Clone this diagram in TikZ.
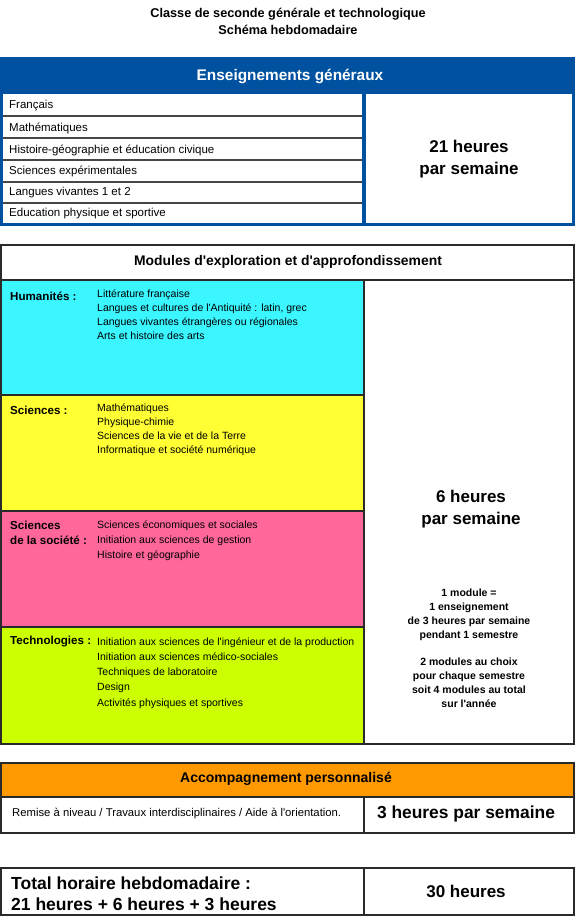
\documentclass[tikz,border=0pt]{standalone}
\usepackage{fontspec}
\setmainfont{Liberation Sans}[Ligatures=TeXOff]
\definecolor{bleu}{HTML}{0052A0}
\definecolor{humcol}{HTML}{3CF6FF}
\definecolor{scicol}{HTML}{FFFF33}
\definecolor{soccol}{HTML}{FF6699}
\definecolor{techcol}{HTML}{CCFF00}
\definecolor{accol}{HTML}{FF9900}
\definecolor{trait}{HTML}{2A2A2A}
\usetikzlibrary{calc, positioning}

\begin{document}
\begin{tikzpicture}[x=1pt, y=-1pt,
  titre/.style={font=\fontsize{12.7}{17}\selectfont\bfseries, align=center, inner sep=0},
  entete/.style={font=\fontsize{13.9}{15}\selectfont\bfseries, inner sep=0},
  matiere/.style={font=\fontsize{11.5}{12}\selectfont, anchor=west, inner sep=0},
  groupe/.style={font=\fontsize{11.6}{15}\selectfont\bfseries, anchor=west, align=left, inner sep=0},
  option/.style={font=\fontsize{10.5}{14}\selectfont, anchor=west, align=left, inner sep=0},
  horaire/.style={font=\fontsize{17}{22}\selectfont\bfseries, align=center, inner sep=0},
  note/.style={font=\fontsize{10.5}{14}\selectfont\bfseries, align=center, inner sep=0},
  cadre/.style={draw=trait, line width=2pt},
  filet/.style={draw=trait, line width=1.5pt}]
  \useasboundingbox (0,0) rectangle (575,918);

  \node[titre] (titre) at (288,21) {Classe de seconde générale et technologique\\Schéma hebdomadaire};

  \fill[bleu] (0,57) rectangle (575,226);
  \fill[white] (3,94) rectangle (362,223);
  \fill[white] (366,94) rectangle (572,223);
  \node[entete, text=white, font=\fontsize{15.4}{17}\selectfont\bfseries] (general) at (290,76) {Enseignements généraux};
  \foreach \y in {116,138,160,182,203}
    \draw[gray!55!black, line width=1.5pt] (3,\y) -- (362,\y);
  \foreach \y/\txt [count=\i] in {106/Français, 128/Mathématiques,
    150/Histoire-géographie et éducation civique, 171/Sciences expérimentales,
    193/Langues vivantes 1 et 2, 214/Education physique et sportive}
    \node[matiere] (mat\i) at (9,\y) {\txt};
  \node[horaire] (h21) at (469,159) {21 heures\\par semaine};

  \fill[white] (1,245) rectangle (574,744);
  \fill[humcol] (2,280) rectangle (364,395);
  \fill[scicol] (2,395) rectangle (364,511);
  \fill[soccol] (2,511) rectangle (364,627);
  \fill[techcol] (2,627) rectangle (364,744);
  \foreach \y in {395,511,627}
    \draw[filet] (2,\y) -- (364,\y);
  \draw[filet] (1,280) -- (574,280);
  \draw[filet] (364,280) -- (364,744);
  \draw[cadre] (1,245) rectangle (574,744);
  \node[entete] (modules) at (288,262) {Modules d'exploration et d'approfondissement};

  \node[groupe] (hum) at (10,296) {Humanités :};
  \node[option, anchor=north west] (humopt) at (97,290) {Littérature française\\Langues et cultures de l'Antiquité : latin, grec\\Langues vivantes étrangères ou régionales\\Arts et histoire des arts};
  \node[groupe] (sci) at (10,410) {Sciences :};
  \node[option, anchor=north west] (sciopt) at (97,404) {Mathématiques\\Physique-chimie\\Sciences de la vie et de la Terre\\Informatique et société numérique};
  \node[groupe, anchor=north west] (soc) at (10,521) {Sciences\\de la société :};
  \node[option, anchor=north west, font=\fontsize{10.5}{15}\selectfont] (socopt) at (97,521) {Sciences économiques et sociales\\Initiation aux sciences de gestion\\Histoire et géographie};
  \node[groupe] (tech) at (10,642) {Technologies :};
  \node[option, anchor=north west, font=\fontsize{10.5}{15}\selectfont] (techopt) at (97,638) {Initiation aux sciences de l'ingénieur et de la production\\Initiation aux sciences médico-sociales\\Techniques de laboratoire\\Design\\[1pt]Activités physiques et sportives};

  \node[horaire] (h6) at (471,509) {6 heures\\par semaine};
  \node[note] (regle) at (469,615) {1 module =\\1 enseignement\\de 3 heures par semaine\\pendant 1 semestre};
  \node[note] (choix) at (469,683) {2 modules au choix\\pour chaque semestre\\soit 4 modules au total\\sur l'année};

  \fill[accol] (1,763) rectangle (574,797);
  \draw[filet] (1,797) -- (574,797);
  \draw[filet] (364,797) -- (364,833);
  \draw[cadre] (1,763) rectangle (574,833);
  \node[entete, font=\fontsize{14}{15}\selectfont\bfseries] (accomp) at (286,779) {Accompagnement personnalisé};
  \node[option, font=\fontsize{11.3}{14}\selectfont] (remise) at (12,814) {Remise à niveau / Travaux interdisciplinaires / Aide à l'orientation.};
  \node[horaire, font=\fontsize{17.4}{20}\selectfont\bfseries] (h3) at (466,814) {3 heures par semaine};

  \draw[filet] (364,868) -- (364,915);
  \draw[cadre] (1,868) rectangle (574,915);
  \node[horaire, anchor=west, align=left, font=\fontsize{17.5}{21}\selectfont\bfseries] (total) at (11,894) {Total horaire hebdomadaire :\\21 heures + 6 heures + 3 heures};
  \node[horaire, font=\fontsize{17}{20}\selectfont\bfseries] (h30) at (466,891) {30 heures};
\end{tikzpicture}
\end{document}
